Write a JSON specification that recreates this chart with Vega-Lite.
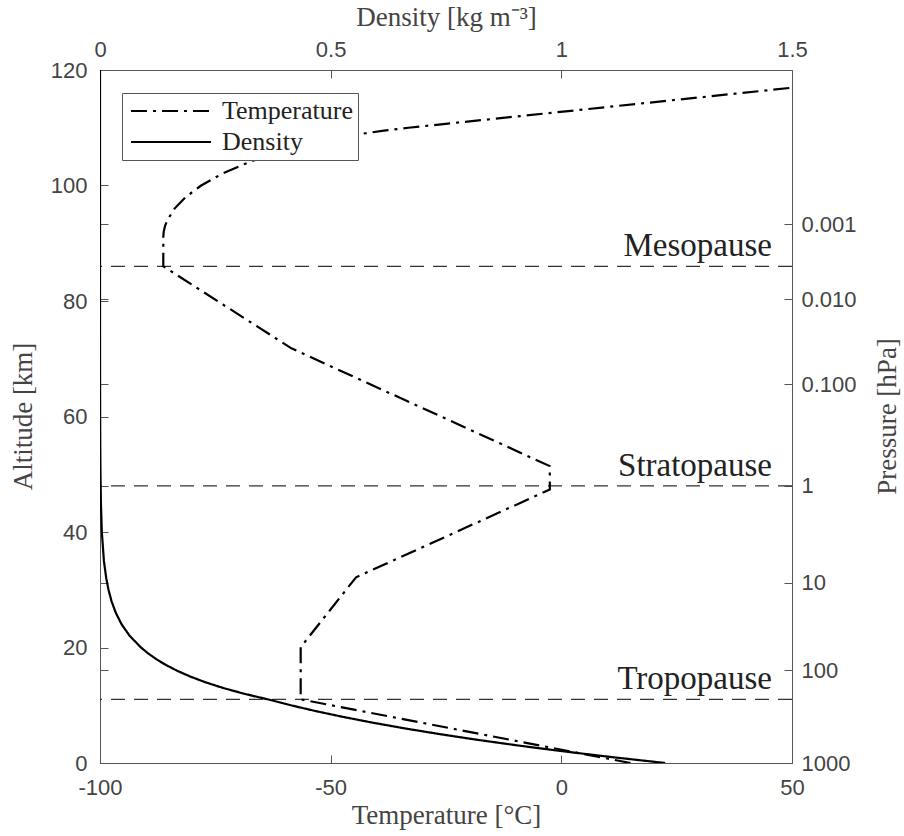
{
  "$schema": "https://vega.github.io/schema/vega-lite/v6.json",
  "width": 692,
  "height": 693,
  "autosize": "none",
  "padding": {"left": 100, "top": 70, "right": 112, "bottom": 73},
  "background": "white",
  "datasets": {
    "temperature": [
      {"series": "Temperature", "alt": 0, "temp": 15.0},
      {"series": "Temperature", "alt": 11.02, "temp": -56.5},
      {"series": "Temperature", "alt": 20.06, "temp": -56.5},
      {"series": "Temperature", "alt": 32.16, "temp": -44.5},
      {"series": "Temperature", "alt": 47.35, "temp": -2.5},
      {"series": "Temperature", "alt": 51.41, "temp": -2.5},
      {"series": "Temperature", "alt": 71.8, "temp": -58.5},
      {"series": "Temperature", "alt": 86.0, "temp": -86.28},
      {"series": "Temperature", "alt": 91.0, "temp": -86.28},
      {"series": "Temperature", "alt": 92.0, "temp": -86.19},
      {"series": "Temperature", "alt": 93.0, "temp": -85.9},
      {"series": "Temperature", "alt": 94.0, "temp": -85.41},
      {"series": "Temperature", "alt": 96.0, "temp": -83.84},
      {"series": "Temperature", "alt": 98.0, "temp": -81.43},
      {"series": "Temperature", "alt": 100.0, "temp": -78.07},
      {"series": "Temperature", "alt": 102.0, "temp": -73.62},
      {"series": "Temperature", "alt": 104.0, "temp": -67.84},
      {"series": "Temperature", "alt": 105.0, "temp": -64.31},
      {"series": "Temperature", "alt": 106.0, "temp": -60.26},
      {"series": "Temperature", "alt": 107.0, "temp": -55.52},
      {"series": "Temperature", "alt": 108.0, "temp": -49.86},
      {"series": "Temperature", "alt": 109.0, "temp": -42.82},
      {"series": "Temperature", "alt": 109.5, "temp": -38.46},
      {"series": "Temperature", "alt": 110.0, "temp": -33.15},
      {"series": "Temperature", "alt": 117.0, "temp": 50.85}
    ],
    "density": [
      {"series": "Density", "alt": 0, "rho": 1.225},
      {"series": "Density", "alt": 1, "rho": 1.1117},
      {"series": "Density", "alt": 2, "rho": 1.0066},
      {"series": "Density", "alt": 3, "rho": 0.90925},
      {"series": "Density", "alt": 4, "rho": 0.81935},
      {"series": "Density", "alt": 5, "rho": 0.73643},
      {"series": "Density", "alt": 6, "rho": 0.66011},
      {"series": "Density", "alt": 7, "rho": 0.59002},
      {"series": "Density", "alt": 8, "rho": 0.52579},
      {"series": "Density", "alt": 9, "rho": 0.46706},
      {"series": "Density", "alt": 10, "rho": 0.41351},
      {"series": "Density", "alt": 11, "rho": 0.3648},
      {"series": "Density", "alt": 12, "rho": 0.31194},
      {"series": "Density", "alt": 13, "rho": 0.2666},
      {"series": "Density", "alt": 14, "rho": 0.22786},
      {"series": "Density", "alt": 15, "rho": 0.19476},
      {"series": "Density", "alt": 16, "rho": 0.16647},
      {"series": "Density", "alt": 17, "rho": 0.1423},
      {"series": "Density", "alt": 18, "rho": 0.12165},
      {"series": "Density", "alt": 19, "rho": 0.104},
      {"series": "Density", "alt": 20, "rho": 0.08891},
      {"series": "Density", "alt": 22, "rho": 0.06451},
      {"series": "Density", "alt": 24, "rho": 0.04694},
      {"series": "Density", "alt": 26, "rho": 0.03426},
      {"series": "Density", "alt": 28, "rho": 0.02508},
      {"series": "Density", "alt": 30, "rho": 0.01841},
      {"series": "Density", "alt": 32, "rho": 0.01355},
      {"series": "Density", "alt": 35, "rho": 0.00846},
      {"series": "Density", "alt": 40, "rho": 0.003996},
      {"series": "Density", "alt": 45, "rho": 0.001966},
      {"series": "Density", "alt": 50, "rho": 0.001027},
      {"series": "Density", "alt": 55, "rho": 0.000568},
      {"series": "Density", "alt": 60, "rho": 0.00031},
      {"series": "Density", "alt": 70, "rho": 0.0000828},
      {"series": "Density", "alt": 80, "rho": 0.0000185},
      {"series": "Density", "alt": 90, "rho": 0.0000034},
      {"series": "Density", "alt": 100, "rho": 0.00000056},
      {"series": "Density", "alt": 110, "rho": 0.0000000971},
      {"series": "Density", "alt": 120, "rho": 0.0000000222}
    ],
    "pauses": [
      {"alt": 11, "name": "Tropopause"},
      {"alt": 48, "name": "Stratopause"},
      {"alt": 86, "name": "Mesopause"}
    ]
  },
  "layer": [
    {
      "data": {"name": "pauses"},
      "mark": {"type": "rule", "color": "#333333", "strokeWidth": 1.2, "strokeDash": [14, 9]},
      "encoding": {
        "y": {
          "field": "alt", "type": "quantitative",
          "scale": {"domain": [0, 120], "nice": false, "zero": false},
          "axis": {
            "orient": "right",
            "values": [0, 16.1, 31.2, 48.0, 65.6, 80.3, 93.3],
            "labelExpr": "datum.value < 1 ? '1000' : datum.value < 20 ? '100' : datum.value < 40 ? '10' : datum.value < 50 ? '1' : datum.value < 70 ? '0.100' : datum.value < 85 ? '0.010' : '0.001'",
            "labelPadding": 17,
            "title": "Pressure [hPa]",
            "titleAngle": 270,
            "titleX": 103,
            "titleY": 346,
            "titleAlign": "center",
            "titleBaseline": "alphabetic"
          }
        }
      }
    },
    {
      "data": {"name": "pauses"},
      "mark": {"type": "text", "font": "Liberation Serif", "fontSize": 33, "color": "#222222", "align": "right", "baseline": "alphabetic", "dx": -20, "dy": -10},
      "encoding": {
        "y": {"field": "alt", "type": "quantitative", "axis": null},
        "x": {"value": "width"},
        "text": {"field": "name"}
      }
    },
    {
      "data": {"name": "density"},
      "mark": {"type": "line", "color": "black", "strokeWidth": 2.2, "clip": true},
      "encoding": {
        "x": {
          "field": "rho", "type": "quantitative",
          "scale": {"domain": [0, 1.5], "nice": false, "zero": false},
          "axis": {
            "orient": "top",
            "values": [0, 0.5, 1, 1.5],
            "labelExpr": "'' + datum.value",
            "labelPadding": 17,
            "title": "Density [kg m⁻³]",
            "titleX": 346,
            "titleY": -45,
            "titleAlign": "center",
            "titleBaseline": "alphabetic"
          }
        },
        "y": {"field": "alt", "type": "quantitative", "axis": null},
        "order": {"field": "alt", "type": "quantitative"},
        "strokeDash": {
          "field": "series", "type": "nominal",
          "scale": {"domain": ["Temperature", "Density"], "range": [[16, 6, 3, 6], [1, 0]]},
          "legend": {"title": null}
        }
      }
    },
    {
      "data": {"name": "temperature"},
      "mark": {"type": "line", "color": "black", "strokeWidth": 2.2, "clip": true},
      "encoding": {
        "x": {
          "field": "temp", "type": "quantitative",
          "scale": {"domain": [-100, 50], "nice": false, "zero": false},
          "axis": {
            "orient": "bottom",
            "values": [-100, -50, 0, 50],
            "labelExpr": "'' + datum.value",
            "labelPadding": 22,
            "title": "Temperature [°C]",
            "titleX": 346,
            "titleY": 60,
            "titleAlign": "center",
            "titleBaseline": "alphabetic"
          }
        },
        "y": {
          "field": "alt", "type": "quantitative",
          "axis": {
            "orient": "left",
            "values": [0, 16.1, 20, 31.2, 40, 48.0, 60, 65.6, 80, 80.3, 93.3, 100, 120],
            "labelExpr": "datum.value % 20 == 0 ? '' + datum.value : ''",
            "labelPadding": 21,
            "title": "Altitude [km]",
            "titleAngle": 270,
            "titleX": -69,
            "titleY": 346,
            "titleAlign": "center",
            "titleBaseline": "alphabetic"
          }
        },
        "order": {"field": "alt", "type": "quantitative"},
        "strokeDash": {"field": "series", "type": "nominal", "legend": {"title": null}}
      }
    }
  ],
  "resolve": {"scale": {"x": "independent"}, "axis": {"y": "independent"}},
  "config": {
    "view": {"stroke": null},
    "axis": {
      "grid": false,
      "domainColor": "#555555",
      "domainWidth": 1,
      "tickColor": "#555555",
      "tickSize": -8,
      "tickWidth": 1,
      "labelFont": "Liberation Sans",
      "labelFontSize": 22,
      "labelColor": "#444444",
      "labelOverlap": false,
      "labelFlush": false,
      "titleFont": "Liberation Serif",
      "titleFontSize": 27,
      "titleFontWeight": "normal",
      "titleColor": "#444444"
    },
    "legend": {
      "orient": "none",
      "legendX": 22,
      "legendY": 23,
      "direction": "vertical",
      "fillColor": "white",
      "strokeColor": "#555555",
      "padding": 5,
      "clipHeight": 26,
      "rowPadding": 5,
      "symbolType": "stroke",
      "symbolSize": 6400,
      "symbolStrokeWidth": 2,
      "symbolStrokeColor": "black",
      "symbolOffset": 3,
      "labelOffset": 10,
      "labelFont": "Liberation Serif",
      "labelFontSize": 26,
      "labelColor": "#222222"
    }
  }
}
